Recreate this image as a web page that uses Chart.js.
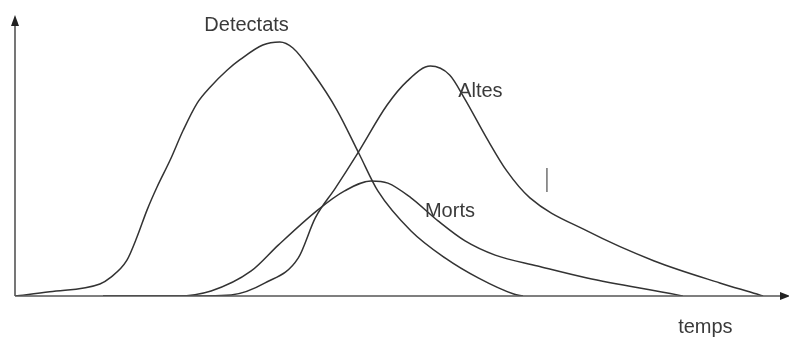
<!DOCTYPE html>
<html>
<head>
<meta charset="utf-8">
<script src="https://cdn.jsdelivr.net/npm/chart.js@4/dist/chart.umd.min.js"></script>
<style>
  html, body { margin: 0; padding: 0; background: #fff; }
  #wrap { width: 789px; height: 338px; }
</style>
</head>
<body>
<div id="wrap"><canvas id="epiChart"></canvas></div>
<script>
// temps (0-100) i valor relatiu (0-100), llegits del dibuix
const detectatsT = [0, 4.5, 11.0, 12.3, 14.5, 15.8, 17.1, 18.4, 20.1, 21.8, 23.6, 25.3, 27.5, 29.1, 32.1, 34.3, 36.0, 38.6, 41.7, 44.6, 47.0, 51.3, 55.7, 60.0, 64.6, 65.8];
const detectatsV = [0, 1.5, 4.3, 6.5, 12.9, 21.2, 30.9, 39.2, 48.9, 59.7, 69.4, 75.2, 81.3, 84.9, 90.3, 91.4, 89.2, 80.2, 66.9, 51.0, 37.8, 23.4, 13.7, 6.5, 0.7, 0];

const altesT = [11.4, 21.1, 28.0, 32.4, 36.7, 38.9, 41.5, 44.4, 48.2, 50.8, 53.8, 56.3, 58.2, 61.1, 63.7, 66.7, 74.1, 82.8, 91.3, 96.1, 96.9];
const altesV = [0, 0, 0.4, 4.7, 13.7, 28.1, 38.8, 51.4, 68.7, 77.3, 82.7, 79.5, 71.2, 56.8, 45.0, 35.3, 23.4, 12.6, 4.7, 0.7, 0];

const mortsT = [11.4, 21.1, 25.4, 30.6, 34.1, 39.2, 42.7, 46.1, 48.3, 51.3, 54.8, 58.3, 62.2, 67.7, 74.1, 85.8, 86.5];
const mortsV = [0, 0, 1.8, 9.0, 18.3, 30.9, 37.8, 41.4, 40.6, 35.3, 27.0, 19.8, 14.7, 10.8, 6.5, 0.4, 0];

const seriesNames = ['Detectats', 'Altes', 'Morts'];
const axisTitle = 'temps';

const toPoints = (ts, vs) => ts.map((t, i) => ({ x: t, y: vs[i] }));

const lineStyle = {
  borderColor: '#333',
  borderWidth: 1.5,
  pointRadius: 0,
  fill: false,
  cubicInterpolationMode: 'monotone'
};

// eixos amb fletxes + etiquetes escrites a mà
const sketchPlugin = {
  id: 'sketch',
  afterDatasetsDraw(chart) {
    const { ctx, scales: { x, y } } = chart;
    const x0 = x.getPixelForValue(0);
    const y0 = y.getPixelForValue(0);
    const yTop = y.getPixelForValue(100);
    const xEnd = x.getPixelForValue(100);

    ctx.save();
    ctx.strokeStyle = '#555';
    ctx.fillStyle = '#222';
    ctx.lineWidth = 1.6;
    ctx.beginPath();
    ctx.moveTo(x0, y0);
    ctx.lineTo(x0, yTop + 4);
    ctx.moveTo(x0, y0);
    ctx.lineTo(xEnd, y0);
    ctx.stroke();

    // fletxa vertical
    ctx.beginPath();
    ctx.moveTo(x0, yTop - 3);
    ctx.lineTo(x0 - 4, yTop + 8);
    ctx.lineTo(x0 + 4, yTop + 8);
    ctx.closePath();
    ctx.fill();
    // fletxa horitzontal
    ctx.beginPath();
    ctx.moveTo(xEnd + 3, y0);
    ctx.lineTo(xEnd - 7, y0 - 4);
    ctx.lineTo(xEnd - 7, y0 + 4);
    ctx.closePath();
    ctx.fill();

    ctx.fillStyle = '#3a3a3a';
    ctx.font = '20px "Liberation Sans", Arial, sans-serif';
    ctx.textBaseline = 'alphabetic';
    ctx.textAlign = 'center';
    ctx.fillText(seriesNames[0], x.getPixelForValue(30.0), 31);
    ctx.textAlign = 'left';
    ctx.fillText(seriesNames[1], x.getPixelForValue(57.4), 97);
    ctx.fillText(seriesNames[2], x.getPixelForValue(53.1), 217);
    ctx.fillText(axisTitle, x.getPixelForValue(85.9), 333);

    // petita marca solta
    ctx.strokeStyle = '#888';
    ctx.lineWidth = 1.8;
    ctx.beginPath();
    ctx.moveTo(x.getPixelForValue(68.9), y.getPixelForValue(46.0));
    ctx.lineTo(x.getPixelForValue(68.9), y.getPixelForValue(37.4));
    ctx.stroke();
    ctx.restore();
  }
};

new Chart(document.getElementById('epiChart'), {
  type: 'line',
  data: {
    datasets: [
      { label: seriesNames[0], data: toPoints(detectatsT, detectatsV), ...lineStyle },
      { label: seriesNames[1], data: toPoints(altesT, altesV), ...lineStyle },
      { label: seriesNames[2], data: toPoints(mortsT, mortsV), ...lineStyle }
    ]
  },
  options: {
    responsive: true,
    maintainAspectRatio: false,
    animation: false,
    layout: { padding: { left: 15, right: 2, top: 18, bottom: 42 } },
    plugins: {
      legend: { display: false },
      tooltip: { enabled: false }
    },
    scales: {
      x: { type: 'linear', min: 0, max: 100, display: false },
      y: { min: 0, max: 100, display: false }
    }
  },
  plugins: [sketchPlugin]
});
</script>
</body>
</html>
